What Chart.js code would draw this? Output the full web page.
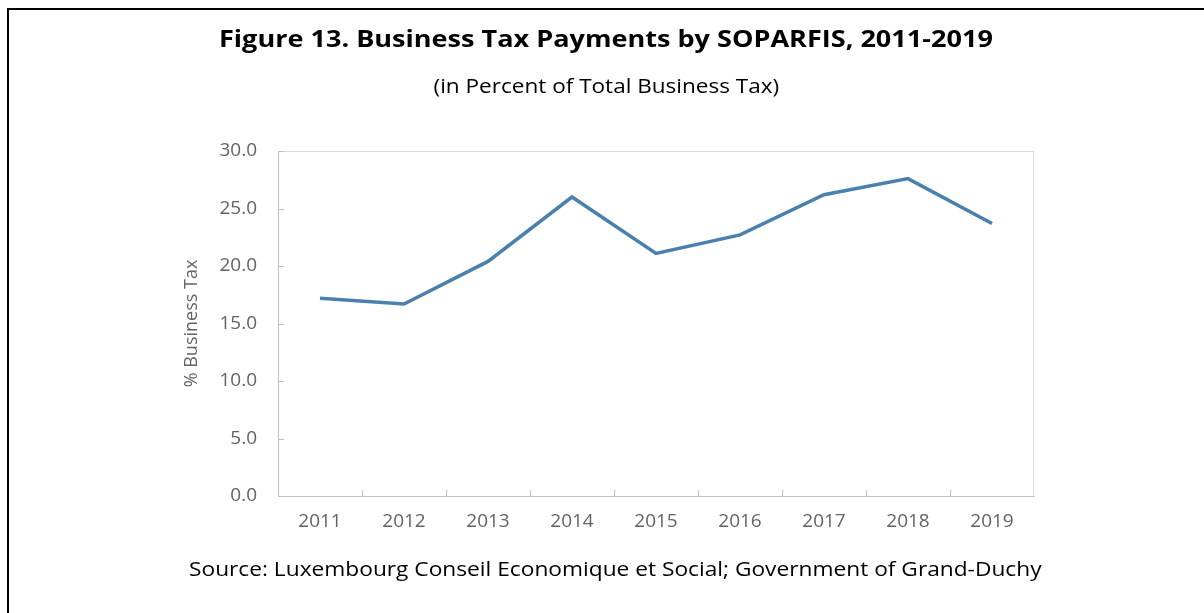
<!DOCTYPE html>
<html>
<head>
<meta charset="utf-8">
<script src="https://cdn.jsdelivr.net/npm/chart.js@4.4.1/dist/chart.umd.min.js"></script>
<style>
  html, body { margin: 0; padding: 0; background: #fff; }
  body { width: 1204px; height: 613px; position: relative; overflow: hidden; font-family: "Open Sans", sans-serif; }
  #frame { position: absolute; left: 7px; top: 8px; width: 1220px; height: 640px; border: 2px solid #000; box-sizing: border-box; }
  .txt { position: absolute; white-space: nowrap; color: #000; transform-origin: center center; display: inline-block; }
  #title { font-weight: bold; font-size: 23px; }
  #subtitle { font-size: 20px; }
  #source { font-size: 20px; }
  #wrap { position: absolute; left: 0; top: 0; width: 1204px; height: 613px; }
</style>
</head>
<body>
<div id="frame"></div>
<div id="wrap"><canvas id="taxChart" width="1204" height="613"></canvas></div>
<div class="txt" id="title">Figure 13. Business Tax Payments by SOPARFIS, 2011-2019</div>
<div class="txt" id="subtitle">(in Percent of Total Business Tax)</div>
<div class="txt" id="source">Source: Luxembourg Conseil Economique et Social; Government of Grand-Duchy</div>
<script>
// Chart data
const years = ['2011', '2012', '2013', '2014', '2015', '2016', '2017', '2018', '2019'];
const businessTaxShare = [17.2, 16.7, 20.4, 26.0, 21.1, 22.7, 26.2, 27.6, 23.7];
const yTicks = [0, 5, 10, 15, 20, 25, 30];

// Stretch each text block to its width in the reference and centre it
function placeText(id, cx, cy, width) {
    const el = document.getElementById(id);
    const w = el.offsetWidth, h = el.offsetHeight;
    el.style.left = (cx - w / 2) + 'px';
    el.style.top = (cy - h / 2) + 'px';
    el.style.transform = 'scaleX(' + (width / w) + ')';
}
placeText('title', 606, 38, 774);
placeText('subtitle', 606, 85, 346);
placeText('source', 615, 568, 853);

const gray = '#646464';
const axisLine = '#c0c0c0';

// Plot frame (top/right) and inward tick marks
const plotFrame = {
    id: 'plotFrame',
    afterDatasetsDraw(chart) {
        const {ctx, chartArea: a, scales: {x, y}} = chart;
        ctx.save();
        ctx.lineWidth = 1;
        ctx.strokeStyle = '#d9d9d9';
        ctx.beginPath();
        ctx.moveTo(a.left, a.top + 0.5);
        ctx.lineTo(a.right - 0.5, a.top + 0.5);
        ctx.lineTo(a.right - 0.5, a.bottom);
        ctx.stroke();

        ctx.strokeStyle = axisLine;
        ctx.beginPath();
        for (let i = 1; i < years.length; i++) {
            const px = Math.round((x.getPixelForValue(i) + x.getPixelForValue(i - 1)) / 2) + 0.5;
            ctx.moveTo(px, a.bottom);
            ctx.lineTo(px, a.bottom - 6);
        }
        yTicks.forEach(v => {
            const py = Math.round(y.getPixelForValue(v)) + 0.5;
            ctx.moveTo(a.left, py);
            ctx.lineTo(a.left + 6, py);
        });
        ctx.stroke();
        ctx.restore();
    }
};

const ctx = document.getElementById('taxChart').getContext('2d');
new Chart(ctx, {
    type: 'line',
    data: {
        labels: years,
        datasets: [{
            label: '% Business Tax',
            data: businessTaxShare,
            borderColor: '#4a80ad',
            borderWidth: 3.5,
            pointRadius: 0,
            tension: 0,
            fill: false
        }]
    },
    options: {
        responsive: false,
        animation: false,
        devicePixelRatio: 1,
        layout: { padding: { left: 177, top: 151, right: 170, bottom: 57 } },
        plugins: {
            legend: { display: false },
            tooltip: { enabled: false }
        },
        scales: {
            x: {
                offset: true,
                afterFit(scale) { scale.height = 60; },
                grid: { display: true, drawOnChartArea: false, drawTicks: false, offset: true, color: 'rgba(0,0,0,0)' },
                border: { display: true, color: axisLine, width: 1 },
                ticks: {
                    color: gray,
                    font: { family: 'Open Sans', size: 19 },
                    padding: 14,
                    autoSkip: false,
                    maxRotation: 0
                }
            },
            y: {
                min: 0,
                max: 30,
                afterFit(scale) { scale.width = 101; },
                afterBuildTicks(scale) { scale.ticks = yTicks.map(v => ({ value: v })); },
                grid: { drawOnChartArea: false, drawTicks: false },
                border: { display: true, color: axisLine, width: 1 },
                ticks: {
                    color: gray,
                    font: { family: 'Open Sans', size: 19 },
                    padding: 21,
                    callback: v => v.toFixed(1)
                },
                title: {
                    display: true,
                    text: '% Business Tax',
                    color: gray,
                    font: { family: 'Open Sans', size: 18 }
                }
            }
        }
    },
    plugins: [plotFrame]
});
</script>
</body>
</html>
